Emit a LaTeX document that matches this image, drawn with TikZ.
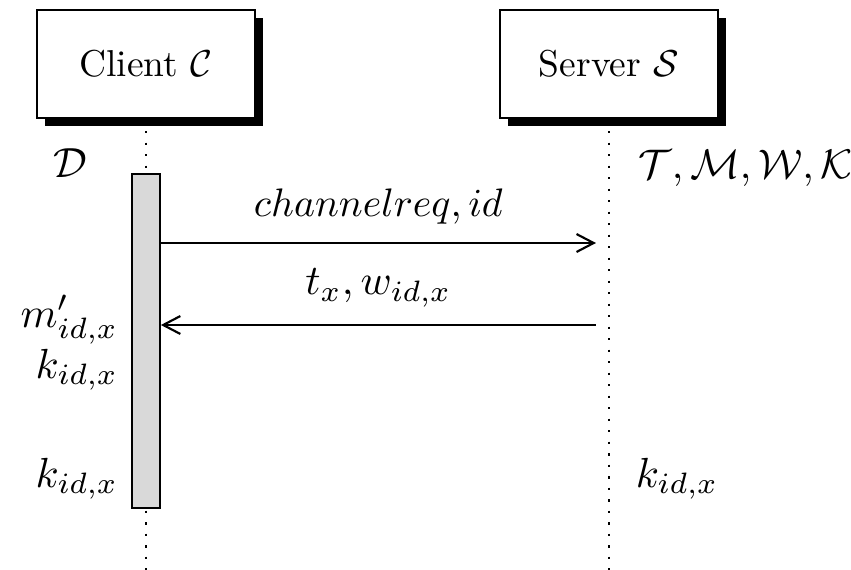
\documentclass[tikz,border=0pt]{standalone}
\usetikzlibrary{shadows,arrows.meta}
\newlength\upx
\setlength\upx{0.2564pt}
\newcommand\mlab[1]{\scalebox{1.08}{$#1$}}
\begin{document}
\begin{tikzpicture}[x=0.2564pt,y=-0.2564pt,
  inst/.style={draw, line width=0.45pt, fill=white, minimum width=218\upx, minimum height=108\upx,
    drop shadow={opacity=1,fill=black,shadow xshift=8\upx,shadow yshift=-8\upx}},
  lifeline/.style={dash pattern=on 0.6pt off 2.35pt, line width=0.6pt},
  actbar/.style={draw, fill=black!15, line width=0.45pt, minimum width=28\upx, minimum height=334\upx, inner sep=0pt},
  msg/.style={-{Straight Barb[length=4.4pt,width=4.6pt]}, line width=0.55pt},
  lbl/.style={inner sep=0pt}
]
\useasboundingbox (0,0) rectangle (851,570);
% lifeline coordinates
\coordinate (cTop) at (146,131);
\coordinate (cBot) at (146,570);
\coordinate (sTop) at (609,131);
\coordinate (sBot) at (609,570);
\draw[lifeline] (cTop) -- (cBot);
\draw[lifeline] (sTop) -- (sBot);
% instances
\node[inst] (client) at (146,64) {\scalebox{0.96}{Client $\mathcal{C}$}};
\node[inst] (server) at (609,64) {\scalebox{0.96}{Server $\mathcal{S}$}};
% activation bar
\node[actbar] (act) at (146,341) {};
% messages
\coordinate (m1e) at (596,243);
\coordinate (m2s) at (596,325);
\draw[msg] (act.east |- m1e) -- node[above=5\upx] (l1) {\scalebox{1.02}{$channelreq, id$}} (m1e);
\draw[msg] (m2s) -- node[above=4\upx] (l2) {\mlab{t_x, w_{id,x}}} (act.east |- m2s);
% side labels
\node[lbl, anchor=base west] (D) at (53,177) {\mlab{\mathcal{D}}};
\node[lbl, anchor=base west] (TMWK) at (638,178) {\scalebox{1.06}{$\mathcal{T}, \mathcal{M}, \mathcal{W}, \mathcal{K}$}};
\node[lbl, anchor=base east] (mp) at (119,327) {\mlab{m'_{id,x}}};
\node[lbl, anchor=base east] (k1) at (119,378) {\mlab{k_{id,x}}};
\node[lbl, anchor=base east] (k2) at (119,487) {\mlab{k_{id,x}}};
\node[lbl, anchor=base west] (k3) at (635,487) {\mlab{k_{id,x}}};
\end{tikzpicture}
\end{document}
